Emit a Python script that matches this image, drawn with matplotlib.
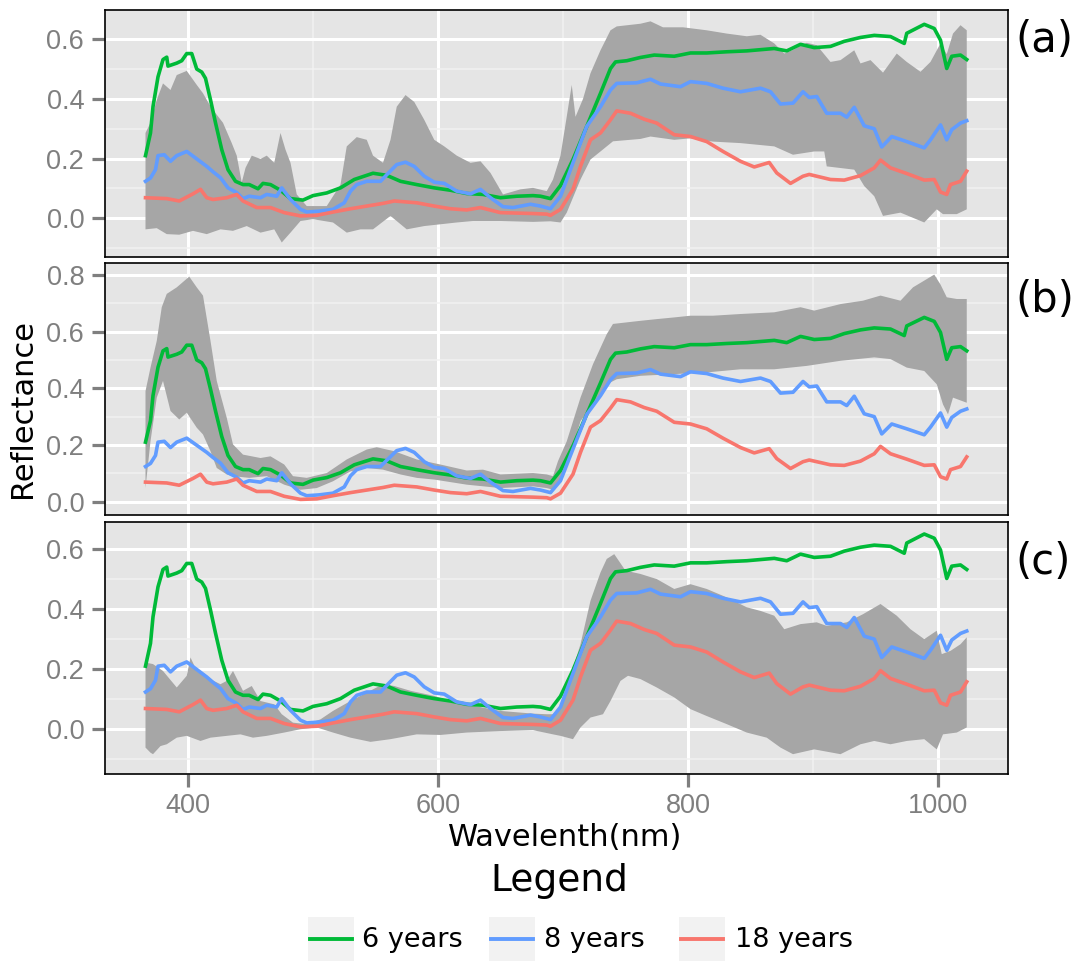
import matplotlib
matplotlib.use('Agg')
import matplotlib.pyplot as plt
from matplotlib.lines import Line2D
from matplotlib.patches import Rectangle
import numpy as np

# ---------------- data ----------------
series_names = ['6 years', '8 years', '18 years']
series_colors = ['#00BA38', '#619CFF', '#F8766D']

wl_6 = [366, 370, 372, 376, 380, 383, 384, 391, 395, 399, 403, 407, 411, 414, 418, 422, 427, 432, 438, 444,
        449, 456, 460, 466, 474, 482, 492, 500, 511, 522, 533, 543, 548, 559, 570, 583, 597, 610, 623, 636,
        650, 663, 676, 682, 690, 698, 708, 719, 730, 738, 742, 751, 762, 773, 789, 802, 815, 831, 847, 869,
        879, 890, 901, 914, 925, 938, 949, 962, 973, 975, 989, 997, 1002, 1007, 1011, 1018, 1023]
refl_6 = [0.21, 0.286, 0.374, 0.474, 0.532, 0.54, 0.51, 0.52, 0.528, 0.552, 0.552, 0.50, 0.49, 0.469, 0.397,
          0.32, 0.23, 0.163, 0.124, 0.113, 0.113, 0.099, 0.117, 0.113, 0.094, 0.066, 0.061, 0.076, 0.085,
          0.102, 0.13, 0.144, 0.151, 0.144, 0.124, 0.113, 0.102, 0.094, 0.083, 0.08, 0.069, 0.074, 0.076,
          0.074, 0.066, 0.11, 0.197, 0.308, 0.419, 0.502, 0.524, 0.528, 0.539, 0.547, 0.543, 0.554, 0.554,
          0.558, 0.561, 0.569, 0.561, 0.583, 0.572, 0.576, 0.593, 0.606, 0.613, 0.609, 0.586, 0.62, 0.65,
          0.636, 0.597, 0.502, 0.543, 0.547, 0.532]

wl_8 = [366, 370, 374, 376, 381, 386, 391, 399, 407, 415, 420, 426, 432, 439, 444, 449, 458, 463, 471, 475,
        482, 490, 495, 505, 516, 525, 530, 535, 543, 554, 559, 567, 574, 581, 589, 597, 605, 615, 626, 634,
        642, 652, 660, 674, 682, 690, 698, 708, 719, 730, 738, 743, 759, 770, 778, 794, 802, 815, 828, 842,
        858, 866, 874, 884, 892, 897, 903, 911, 922, 927, 933, 941, 949, 955, 963, 975, 989, 994, 1002, 1007,
        1011, 1018, 1023]
refl_8 = [0.124, 0.135, 0.163, 0.21, 0.213, 0.191, 0.21, 0.224, 0.199, 0.174, 0.156, 0.136, 0.102, 0.086,
          0.066, 0.074, 0.069, 0.08, 0.074, 0.102, 0.063, 0.03, 0.021, 0.024, 0.03, 0.052, 0.091, 0.113, 0.124,
          0.124, 0.146, 0.18, 0.188, 0.174, 0.141, 0.121, 0.117, 0.091, 0.082, 0.097, 0.069, 0.039, 0.036,
          0.047, 0.041, 0.032, 0.074, 0.186, 0.308, 0.374, 0.43, 0.452, 0.454, 0.466, 0.45, 0.441, 0.458,
          0.452, 0.436, 0.424, 0.436, 0.424, 0.383, 0.386, 0.424, 0.405, 0.408, 0.352, 0.352, 0.339, 0.372,
          0.31, 0.30, 0.239, 0.274, 0.257, 0.236, 0.263, 0.313, 0.263, 0.297, 0.319, 0.327]

wl_18 = [366, 383, 393, 404, 410, 415, 420, 431, 439, 444, 455, 466, 477, 490, 503, 516, 530, 543, 556, 565,
         583, 597, 610, 623, 634, 650, 676, 687, 690, 698, 708, 714, 722, 730, 738, 743, 754, 765, 775, 789,
         802, 815, 828, 842, 853, 865, 871, 882, 892, 897, 914, 925, 938, 949, 954, 962, 975, 989, 997, 1002,
         1007, 1010, 1018, 1023]
refl_18 = [0.069, 0.066, 0.058, 0.082, 0.097, 0.069, 0.063, 0.069, 0.08, 0.058, 0.036, 0.036, 0.019, 0.008,
           0.01, 0.021, 0.032, 0.041, 0.05, 0.058, 0.052, 0.041, 0.032, 0.028, 0.036, 0.019, 0.016, 0.014,
           0.01, 0.03, 0.097, 0.174, 0.263, 0.286, 0.33, 0.36, 0.352, 0.332, 0.319, 0.28, 0.274, 0.257, 0.224,
           0.191, 0.172, 0.187, 0.152, 0.117, 0.141, 0.147, 0.13, 0.128, 0.143, 0.169, 0.195, 0.169, 0.15,
           0.128, 0.13, 0.088, 0.08, 0.113, 0.124, 0.158]

# (a) ribbon: spread of the 8-year spectra
band_a_wl_upper = [366, 370, 375, 380, 386, 391, 399, 407, 412, 418, 423, 428, 435, 439, 443, 446, 451, 458,
                   463, 469, 474, 478, 482, 487, 495, 511, 522, 527, 535, 543, 548, 556, 562, 567, 574, 581,
                   589, 597, 605, 615, 626, 634, 642, 652, 666, 676, 687, 692, 698, 703, 707, 710, 716, 722,
                   730, 738, 743, 762, 770, 780, 796, 815, 831, 847, 858, 869, 877, 884, 895, 903, 914, 922,
                   933, 938, 946, 956, 967, 975, 986, 994, 1002, 1007, 1012, 1018, 1023]
band_a_upper = [0.286, 0.32, 0.397, 0.452, 0.43, 0.48, 0.494, 0.447, 0.419, 0.375, 0.347, 0.32, 0.252, 0.21,
                0.12, 0.169, 0.21, 0.199, 0.21, 0.186, 0.286, 0.23, 0.186, 0.08, 0.041, 0.041, 0.113, 0.241,
                0.272, 0.263, 0.21, 0.186, 0.263, 0.374, 0.413, 0.39, 0.33, 0.263, 0.241, 0.21, 0.186, 0.191,
                0.152, 0.08, 0.097, 0.102, 0.091, 0.13, 0.21, 0.341, 0.447, 0.34, 0.40, 0.486, 0.563, 0.63,
                0.643, 0.652, 0.66, 0.64, 0.64, 0.63, 0.619, 0.61, 0.615, 0.586, 0.552, 0.564, 0.588, 0.58,
                0.524, 0.53, 0.563, 0.519, 0.53, 0.488, 0.552, 0.524, 0.491, 0.524, 0.586, 0.55, 0.619, 0.647,
                0.63]
band_a_wl_lower = [366, 375, 383, 393, 404, 415, 426, 436, 447, 458, 469, 475, 482, 490, 500, 516, 527, 538,
                   548, 562, 575, 589, 602, 615, 628, 650, 676, 690, 698, 703, 714, 722, 730, 740, 762, 770,
                   789, 802, 820, 842, 869, 884, 901, 909, 911, 933, 941, 949, 956, 970, 989, 999, 1004, 1015,
                   1023]
band_a_lower = [-0.037, -0.033, -0.053, -0.055, -0.042, -0.053, -0.037, -0.042, -0.026, -0.048, -0.037,
                -0.081, -0.048, -0.009, -0.003, -0.014, -0.048, -0.037, -0.037, 0.008, -0.037, -0.026, -0.02,
                -0.014, -0.009, -0.009, -0.012, -0.01, -0.014, 0.019, 0.13, 0.197, 0.224, 0.258, 0.266, 0.274,
                0.263, 0.268, 0.257, 0.252, 0.241, 0.213, 0.224, 0.224, 0.174, 0.163, 0.108, 0.074, 0.008,
                0.019, -0.014, 0.03, 0.014, 0.014, 0.03]

# (b) ribbon: spread of the 6-year spectra
band_b_wl_upper = [366, 370, 375, 379, 383, 391, 401, 407, 412, 418, 423, 431, 436, 444, 458, 466, 477, 484,
                   495, 511, 527, 543, 551, 565, 583, 602, 623, 636, 650, 676, 687, 692, 696, 703, 714, 724,
                   735, 740, 762, 775, 789, 802, 820, 842, 869, 890, 901, 922, 940, 954, 970, 980, 997, 1002,
                   1007, 1015, 1023]
band_b_upper = [0.39, 0.473, 0.567, 0.686, 0.733, 0.756, 0.794, 0.756, 0.727, 0.567, 0.426, 0.296, 0.202,
                0.166, 0.154, 0.16, 0.131, 0.09, 0.084, 0.101, 0.149, 0.184, 0.192, 0.178, 0.149, 0.131, 0.11,
                0.113, 0.096, 0.101, 0.096, 0.09, 0.143, 0.213, 0.367, 0.485, 0.591, 0.627, 0.638, 0.644,
                0.65, 0.656, 0.656, 0.662, 0.668, 0.686, 0.674, 0.697, 0.709, 0.727, 0.709, 0.756, 0.801,
                0.766, 0.721, 0.715, 0.715]
band_b_wl_lower = [366, 370, 375, 380, 386, 393, 399, 407, 412, 418, 423, 431, 436, 449, 463, 477, 490, 503,
                   516, 530, 543, 556, 570, 583, 597, 623, 650, 676, 687, 692, 696, 703, 714, 724, 735, 743,
                   762, 789, 815, 842, 869, 895, 922, 949, 962, 975, 989, 999, 1004, 1008, 1012, 1023]
band_b_lower = [0.048, 0.213, 0.367, 0.426, 0.32, 0.29, 0.314, 0.261, 0.237, 0.178, 0.119, 0.096, 0.09,
                0.084, 0.09, 0.06, 0.042, 0.048, 0.072, 0.107, 0.119, 0.113, 0.096, 0.084, 0.078, 0.06, 0.048,
                0.054, 0.048, 0.042, 0.06, 0.119, 0.284, 0.343, 0.414, 0.432, 0.444, 0.45, 0.456, 0.467, 0.467,
                0.479, 0.497, 0.509, 0.503, 0.473, 0.461, 0.414, 0.343, 0.308, 0.367, 0.349]

# (c) ribbon: spread of the 18-year spectra
band_c_wl_upper = [366, 372, 380, 391, 399, 402, 407, 415, 426, 431, 436, 444, 451, 458, 469, 475, 484, 495,
                   506, 516, 530, 543, 556, 565, 578, 597, 610, 623, 636, 650, 676, 687, 692, 698, 703, 714,
                   722, 730, 735, 741, 750, 762, 775, 789, 802, 815, 831, 847, 858, 869, 877, 890, 903, 911,
                   927, 940, 954, 967, 978, 989, 999, 1003, 1010, 1018, 1023]
band_c_upper = [0.222, 0.217, 0.194, 0.139, 0.178, 0.239, 0.194, 0.172, 0.15, 0.161, 0.194, 0.128, 0.144,
                0.094, 0.083, 0.05, 0.022, 0.017, 0.033, 0.061, 0.094, 0.122, 0.15, 0.144, 0.128, 0.111,
                0.094, 0.083, 0.072, 0.061, 0.052, 0.05, 0.05, 0.072, 0.139, 0.283, 0.428, 0.522, 0.567,
                0.583, 0.528, 0.517, 0.5, 0.467, 0.483, 0.467, 0.439, 0.406, 0.394, 0.378, 0.333, 0.35, 0.356,
                0.344, 0.356, 0.383, 0.417, 0.378, 0.333, 0.3, 0.328, 0.25, 0.261, 0.283, 0.306]
band_c_wl_lower = [366, 370, 372, 378, 383, 391, 399, 410, 418, 431, 442, 452, 463, 477, 490, 503, 516, 530,
                   546, 562, 583, 602, 623, 650, 676, 692, 698, 708, 714, 722, 732, 738, 746, 752, 762, 775,
                   789, 802, 815, 831, 847, 863, 874, 884, 901, 922, 938, 949, 962, 975, 989, 999, 1004, 1015,
                   1023]
band_c_lower = [-0.061, -0.078, -0.083, -0.056, -0.05, -0.028, -0.022, -0.039, -0.028, -0.022, -0.017,
                -0.028, -0.022, -0.011, 0.0, 0.006, -0.011, -0.028, -0.042, -0.033, -0.017, -0.019, -0.011,
                -0.006, -0.003, -0.017, -0.022, -0.033, 0.006, 0.039, 0.05, 0.094, 0.161, 0.178, 0.167, 0.139,
                0.106, 0.067, 0.044, 0.017, -0.011, -0.028, -0.061, -0.083, -0.067, -0.083, -0.05, -0.039,
                -0.05, -0.039, -0.033, -0.067, -0.017, -0.011, 0.006]

panel_labels = ['(a)', '(b)', '(c)']
x_ticks = [400, 600, 800, 1000]
x_minor = [500, 700, 900]
x_label = 'Wavelenth(nm)'
y_label = 'Reflectance'
legend_title = 'Legend'

# ---------------- figure ----------------
W, H = 1080, 961
fig = plt.figure(figsize=(W / 100, H / 100), dpi=100)


def fx(px):
    return px / W


def fy(py):
    return 1 - py / H


PANEL_BG = '#E5E5E5'
RIBBON = '#A6A6A6'
TICK_GREY = '#7F7F7F'
TICK_FONT = 'Liberation Sans'

panels = [
    dict(top=10, bottom=256.5, ylim=(-0.128, 0.698), yticks=[0.0, 0.2, 0.4, 0.6],
         yminor=[-0.1, 0.1, 0.3, 0.5],
         band=(band_a_wl_upper, band_a_upper, band_a_wl_lower, band_a_lower), label_y=40),
    dict(top=262.7, bottom=515, ylim=(-0.047, 0.843), yticks=[0.0, 0.2, 0.4, 0.6, 0.8],
         yminor=[0.1, 0.3, 0.5, 0.7],
         band=(band_b_wl_upper, band_b_upper, band_b_wl_lower, band_b_lower), label_y=300),
    dict(top=521.7, bottom=774, ylim=(-0.149, 0.691), yticks=[0.0, 0.2, 0.4, 0.6],
         yminor=[-0.1, 0.1, 0.3, 0.5],
         band=(band_c_wl_upper, band_c_upper, band_c_wl_lower, band_c_lower), label_y=562),
]

left_px, right_px = 105, 1008
series = [(wl_6, refl_6), (wl_8, refl_8), (wl_18, refl_18)]

for i, p in enumerate(panels):
    ax = fig.add_axes([fx(left_px), fy(p['bottom']), (right_px - left_px) / W, (p['bottom'] - p['top']) / H])
    ax.set_facecolor(PANEL_BG)
    ax.set_xlim(333.6, 1056)
    ax.set_ylim(*p['ylim'])
    ax.set_axisbelow(True)
    ax.set_xticks(x_ticks)
    ax.set_xticks(x_minor, minor=True)
    ax.set_yticks(p['yticks'])
    ax.set_yticks(p['yminor'], minor=True)
    ax.set_yticklabels([f'{v:.1f}' for v in p['yticks']], fontfamily=TICK_FONT, fontsize=19.5, color=TICK_GREY)
    ax.grid(which='major', color='white', linewidth=2.2)
    ax.grid(which='minor', color='#F2F2F2', linewidth=1.1)
    ax.tick_params(which='minor', length=0)
    ax.tick_params(axis='y', which='major', length=9.5, width=2.3, color=TICK_GREY, pad=5.5)
    if i < 2:
        ax.tick_params(axis='x', which='major', length=0, labelbottom=False)
    else:
        ax.set_xticklabels([str(v) for v in x_ticks], fontfamily=TICK_FONT, fontsize=19.5, color=TICK_GREY)
        ax.tick_params(axis='x', which='major', length=9.5, width=2.3, color=TICK_GREY, pad=4)
    for s in ax.spines.values():
        s.set_color('black')
        s.set_linewidth(1.2)

    wu, up, wl, lo = p['band']
    ax.fill(list(wu) + list(wl)[::-1], list(up) + list(lo)[::-1], color=RIBBON, linewidth=0, zorder=1.5)
    for (xs, ys), c in zip(series, series_colors):
        ax.plot(xs, ys, color=c, linewidth=2.6, zorder=2, solid_joinstyle='round')

    fig.text(fx(1015), fy(p['label_y']), panel_labels[i], fontsize=30, fontfamily='DejaVu Sans',
             ha='left', va='center', color='black')

# axis titles
fig.text(fx(23), fy(408), y_label, rotation=90, fontsize=22, fontfamily='DejaVu Sans',
         ha='center', va='center', color='black')
fig.text(fx(565), fy(838), x_label, fontsize=22, fontfamily='DejaVu Sans',
         ha='center', va='center', color='black')
fig.text(fx(559), fy(881), legend_title, fontsize=27, fontfamily='DejaVu Sans',
         ha='center', va='center', color='black')

# legend
key_lefts = [308, 489, 679]
text_lefts = [362, 544, 735]
for name, c, kx, tx in zip(series_names, series_colors, key_lefts, text_lefts):
    fig.add_artist(Rectangle((fx(kx), fy(962)), 46 / W, 45 / H, transform=fig.transFigure,
                             facecolor='#F2F2F2', edgecolor='none'))
    fig.add_artist(Line2D([fx(kx + 2), fx(kx + 44)], [fy(939), fy(939)], transform=fig.transFigure,
                          color=c, linewidth=2.8))
    fig.text(fx(tx), fy(940), name, fontsize=19.5, fontfamily='DejaVu Sans', ha='left', va='center',
             color='black')

fig.savefig('out.png', dpi=100)
